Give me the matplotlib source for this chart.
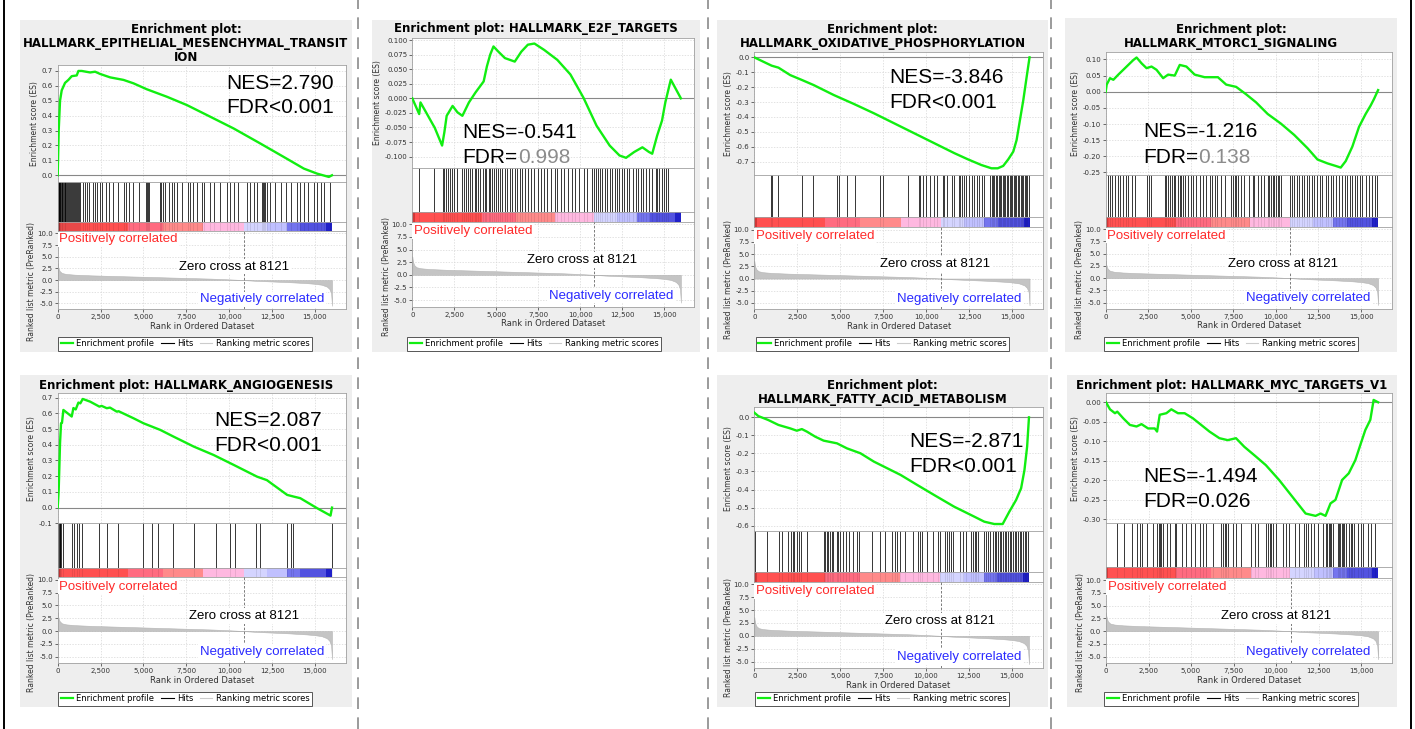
"""GSEA enrichment plots for seven hallmark gene sets, laid out on one page."""

import matplotlib

matplotlib.use("Agg")
import matplotlib.pyplot as plt
from matplotlib.lines import Line2D
from matplotlib.patches import Rectangle
from matplotlib.ticker import FormatStrFormatter, FuncFormatter, MultipleLocator

plt.rcParams["axes.unicode_minus"] = False

W, H = 1415, 729
N_GENES = 16000
X_MAX = 16800
ZERO_LINE_RANK = 10850
ZERO_CROSS_LABEL = "Zero cross at 8121"

# ── shared ranked list metric ────────────────────────────────────────────────
metric_rank = [0, 20, 60, 120, 250, 500, 1000, 2000, 3000, 4000, 5000, 6000, 7000,
               8000, 9000, 10000, 10850, 11500, 12500, 13500, 14500, 15000, 15400,
               15700, 15850, 15950, 16000]
metric_val = [3.6, 3.0, 2.4, 1.9, 1.5, 1.3, 1.15, 1.0, 0.9, 0.8, 0.7, 0.6, 0.5,
              0.4, 0.3, 0.15, 0.0, -0.15, -0.3, -0.45, -0.65, -0.8, -1.0,
              -1.4, -1.9, -2.8, -5.5]

# heat bar segments (rank edges + colours)
bar_edges = [0, 136, 4123, 6167, 8503, 10839, 12205, 13373, 14150, 15650, 16000]
bar_colors = ["#d03838", "#ff5050", "#ff6b80", "#ff8a8a", "#ffb8e0",
              "#d4d4ff", "#c0c0ff", "#7474ee", "#5252e0", "#2020c8"]

# ── EMT ──────────────────────────────────────────────────────────────────────
emt_rank = [0, 58, 136, 234, 428, 623, 818, 1110, 1208, 1403, 1890, 2182, 2474, 3058,
            3838, 4422, 5201, 6370, 7539, 8708, 10266, 11825, 13188, 14357, 15136,
            15818, 16000]
emt_es = [0.0, 0.30, 0.50, 0.57, 0.62, 0.64, 0.665, 0.67, 0.70, 0.70, 0.69, 0.695,
          0.68, 0.657, 0.64, 0.617, 0.577, 0.527, 0.471, 0.404, 0.314, 0.213, 0.123,
          0.045, 0.011, -0.011, 0.0]
emt_hits = [0, 25, 50, 75, 100, 130, 160, 190, 230, 270, 310, 350, 400, 450, 500, 550,
            600, 650, 700, 750, 810, 870, 930, 990, 1050, 1110, 1170, 1230, 1290,
            1500, 1600, 1730, 1850, 2080, 2180, 2280, 2470, 2570, 2820, 3020, 3250,
            3490, 3880, 3990, 4130, 4380, 4770, 5160, 5220, 5280, 5340, 5940, 6040,
            6140, 6270, 6470, 6660, 6800, 6950, 7250, 7580, 7690, 7890, 8120, 8400,
            8550, 8860, 9100, 9490, 9880, 10030, 10270, 10500, 11050, 11200, 11430,
            11630, 11920, 11980, 12040, 12100, 12210, 12410, 12700, 13030, 13340,
            13580, 13930, 14120, 14360, 14590, 14940, 15140, 15370, 15560, 15910]

# ── E2F ──────────────────────────────────────────────────────────────────────
e2f_rank = [0, 410, 488, 1268, 1330, 1775, 1911, 2048, 2400, 2690, 2984, 3374, 3764,
            4251, 4446, 4641, 4836, 5129, 5519, 6104, 6494, 6884, 7274, 7859, 8638,
            9418, 10198, 10978, 11758, 12343, 12733, 13221, 13708, 14098, 14293,
            14586, 14878, 15073, 15400, 16000]
e2f_es = [0.0, -0.027, -0.007, -0.047, -0.050, -0.081, -0.058, -0.030, -0.013,
          -0.024, -0.030, -0.007, 0.010, 0.029, 0.055, 0.075, 0.089, 0.080, 0.069,
          0.063, 0.080, 0.092, 0.094, 0.083, 0.066, 0.041, 0.001, -0.047, -0.081,
          -0.098, -0.102, -0.092, -0.084, -0.092, -0.095, -0.064, -0.038, -0.007,
          0.032, 0.0]
e2f_hits = [410, 1270, 1810, 1910, 2010, 2110, 2240, 2360, 2500, 2690, 2980, 3080,
            3180, 3300, 3410, 3570, 3710, 3800, 3920, 4060, 4190, 4310, 4410, 4540,
            4640, 4740, 4860, 4970, 5090, 5230, 5360, 5520, 5670, 5810, 5950, 6100,
            6260, 6400, 6530, 6690, 6880, 7080, 7270, 7470, 7660, 7860, 8050, 8250,
            8480, 8640, 8870, 9030, 9260, 9520, 9710, 9910, 10200, 10430, 10690, 10820,
            10940, 11080, 11210, 11330, 11470, 11600, 11760, 11910, 12050, 12190,
            12340, 12500, 12640, 12770, 12930, 13120, 13320, 13470, 13630, 13750,
            13900, 14100, 14290, 14490, 14590, 14720, 14880, 15000, 15110, 15230]

# ── OXPHOS ───────────────────────────────────────────────────────────────────
oxphos_rank = [0, 721, 1014, 1404, 2086, 2769, 3451, 4621, 5791, 6962, 8132, 9302,
               10472, 11642, 12422, 13202, 13787, 14150, 14469, 14762, 15054, 15249,
               15444, 15639, 15834, 16000]
oxphos_es = [0.0, -0.04, -0.056, -0.069, -0.119, -0.152, -0.186, -0.253, -0.313,
             -0.376, -0.443, -0.51, -0.577, -0.644, -0.685, -0.723, -0.745, -0.745,
             -0.729, -0.685, -0.633, -0.555, -0.42, -0.286, -0.13, 0.0]
oxphos_hits = [950, 1050, 1400, 2760, 3440, 4800, 4900, 5380, 5860, 7280, 7470, 8910,
               9550, 9650, 9800, 10000, 10230, 10430, 10620, 10950, 11050, 11200,
               11490, 11590, 11880, 11980, 12070, 12170, 12320, 12460, 12650, 12750,
               12940, 13040, 13230, 13330, 13720, 13800, 13880, 13960, 14040, 14120,
               14200, 14280, 14360, 14440, 14520, 14600, 14680, 14760, 14840, 14920,
               15000, 15080, 15160, 15240, 15320, 15400, 15480, 15560, 15640, 15720,
               15800, 15880, 15960]

# ── MTORC1 ───────────────────────────────────────────────────────────────────
mtorc1_rank = [0, 58, 253, 450, 741, 1034, 1326, 1619, 1814, 2106, 2399, 2691, 2984,
               3374, 3666, 4056, 4349, 4739, 5226, 5811, 6591, 7079, 7664, 8249, 8834,
               9516, 10296, 11076, 11856, 12441, 13026, 13514, 13806, 14098, 14489,
               14879, 15269, 15561, 15756, 16000]
mtorc1_es = [0.0, 0.022, 0.042, 0.037, 0.053, 0.068, 0.083, 0.098, 0.106, 0.088,
             0.073, 0.078, 0.068, 0.042, 0.053, 0.05, 0.083, 0.078, 0.053, 0.045,
             0.045, 0.022, 0.015, -0.008, -0.033, -0.069, -0.099, -0.134, -0.175,
             -0.21, -0.222, -0.23, -0.235, -0.215, -0.17, -0.109, -0.069, -0.043,
             -0.023, 0.005]
mtorc1_hits = [120, 250, 390, 550, 700, 840, 1030, 1170, 1290, 1560, 1720, 2400, 2540,
               2690, 3470, 3570, 3670, 3760, 3900, 4020, 4100, 4250, 4350, 4450, 4560,
               4680, 4840, 5030, 5130, 5320, 5520, 5710, 5910, 6100, 6240, 6400, 6550,
               6750, 7020, 7370, 7470, 7570, 7660, 7760, 7920, 8150, 8390, 8640, 8740,
               8970, 9130, 9280, 9520, 9610, 9710, 9810, 9910, 10000, 10100, 10200,
               10300, 10800, 10920, 11080, 11230, 11370, 11510, 11660, 11820, 11950,
               12090, 12250, 12440, 12600, 12730, 12930, 13070, 13220, 13380, 13510,
               13710, 13900, 14040, 14200, 14350, 14490, 14630, 14780, 14940, 15070,
               15270, 15460, 15660, 15800, 15910]

# ── ANGIOGENESIS ─────────────────────────────────────────────────────────────
angio_rank = [0, 58, 97, 136, 195, 250, 331, 818, 916, 1050, 1208, 1320, 1461, 1890,
              2435, 2560, 2864, 3050, 3448, 3550, 4422, 5006, 5493, 5980, 6760, 7929,
              9097, 10266, 11630, 12200, 13383, 13772, 14150, 15136, 15915, 16000]
angio_es = [0.0, 0.112, 0.26, 0.41, 0.537, 0.54, 0.622, 0.58, 0.634, 0.625, 0.669,
            0.664, 0.692, 0.675, 0.643, 0.648, 0.633, 0.637, 0.611, 0.614, 0.569,
            0.537, 0.516, 0.495, 0.452, 0.389, 0.335, 0.272, 0.197, 0.175, 0.081,
            0.07, 0.06, -0.004, -0.051, 0.0]
angio_hits = [0, 40, 80, 120, 160, 200, 290, 857, 955, 1149, 1247, 1442, 2435, 2864,
              3506, 4967, 5493, 5825, 6721, 7929, 9253, 10032, 10325, 11591, 11786,
              13383, 13636, 13733, 15974]

# ── FATTY ACID METABOLISM ────────────────────────────────────────────────────
fatty_rank = [0, 234, 819, 1404, 2087, 2477, 2769, 3062, 3549, 4037, 4817, 5402, 6182,
              6962, 7742, 8522, 9497, 10472, 11642, 12812, 13397, 13982, 14469, 14859,
              15249, 15542, 15737, 15893, 16000]
fatty_es = [0.026, 0.007, -0.015, -0.042, -0.061, -0.074, -0.065, -0.079, -0.107,
            -0.129, -0.144, -0.172, -0.199, -0.245, -0.282, -0.319, -0.375, -0.43,
            -0.495, -0.55, -0.578, -0.591, -0.591, -0.522, -0.458, -0.393, -0.292,
            -0.162, 0.0]
fatty_hits = [40, 720, 1440, 1590, 1980, 2110, 2230, 2330, 2460, 2600, 2720, 3050,
              4050, 4130, 4210, 4310, 4400, 4500, 4600, 4790, 4890, 4990, 5180, 5370,
              5510, 5760, 5960, 6110, 6830, 7310, 7600, 8050, 8190, 8320, 8480, 8770,
              9250, 9540, 9640, 9740, 10070, 10420, 10710, 10840, 11100, 11230, 11350,
              11480, 11580, 11970, 12160, 12360, 12650, 12750, 12840, 12940, 13040,
              13370, 13480, 13620, 13720, 13910, 14010, 14100, 14200, 14300, 14390,
              14490, 14590, 14690, 14780, 14880, 14980, 15070, 15170, 15270, 15360,
              15460, 15560, 15660, 15750, 15850, 15950]

# ── MYC TARGETS V1 ───────────────────────────────────────────────────────────
myc_rank = [0, 234, 527, 663, 1014, 1404, 1794, 2087, 2477, 2867, 3003, 3159, 3549,
            3842, 4232, 4622, 5109, 5597, 6084, 6669, 7157, 7644, 8132, 8814, 9399,
            10179, 10959, 11739, 12324, 12617, 12909, 13202, 13494, 13884, 14274,
            14664, 14957, 15249, 15542, 15737, 16000]
myc_es = [0.0, -0.018, -0.028, -0.024, -0.041, -0.058, -0.062, -0.056, -0.067,
          -0.067, -0.075, -0.032, -0.028, -0.018, -0.028, -0.028, -0.041, -0.058,
          -0.075, -0.092, -0.097, -0.092, -0.114, -0.139, -0.161, -0.199, -0.242,
          -0.285, -0.291, -0.285, -0.291, -0.259, -0.25, -0.199, -0.182, -0.148,
          -0.109, -0.071, -0.045, 0.006, 0.0]
myc_hits = [630, 1060, 1510, 1840, 1990, 2090, 2440, 2740, 3010, 3090, 3170, 3260,
            3360, 3560, 3750, 4050, 4140, 4440, 4730, 5020, 5220, 5510, 5710, 5900,
            6300, 6780, 6880, 6980, 7080, 7170, 7470, 7660, 7960, 8540, 8740, 8930,
            9420, 9520, 9620, 9710, 9810, 10010, 10400, 10600, 10790, 11090, 11340,
            11670, 11770, 11870, 12060, 12260, 12450, 12750, 12940, 13020, 13100,
            13180, 13260, 13330, 13630, 13700, 13780, 13860, 13940, 14020, 14110,
            14310, 14390, 14460, 14600, 14800, 14990, 15130, 15390, 15580, 15840]

# page layout in pixels: box = grey backdrop, es = (left, top, right, bottom),
# rows = bottoms of the hits strip, heat bar and ranked-metric axes
panels = [
    dict(title="Enrichment plot:\nHALLMARK_EPITHELIAL_MESENCHYMAL_TRANSIT\nION",
         title_y=23, box=(20, 20, 352, 352), es=(57.7, 65, 345.7, 182),
         rows=(222, 231, 309.5), legend=(185, 343.5), nes_xy=(226, 89, 113),
         rank=emt_rank, es_val=emt_es, hits=emt_hits, ylim=(-0.045, 0.74),
         step=0.1, fmt="%.1f", nes="NES=2.790", fdr=("FDR<0.001", None),
         zero_x=10300),
    dict(title="Enrichment plot: HALLMARK_E2F_TARGETS",
         title_y=22, box=(372, 20, 700, 352), es=(412.3, 37.7, 694.3, 168.3),
         rows=(211.7, 221.7, 306.7), legend=(534, 343.5), nes_xy=(462.7, 138, 163),
         rank=e2f_rank, es_val=e2f_es, hits=e2f_hits, ylim=(-0.12, 0.104),
         step=0.025, fmt="%.3f", nes="NES=-0.541", fdr=("FDR=", "0.998"),
         zero_x=10100),
    dict(title="Enrichment plot:\nHALLMARK_OXIDATIVE_PHOSPHORYLATION",
         title_y=23, box=(717, 20, 1048, 352), es=(754.3, 51.7, 1043.3, 175),
         rows=(216.7, 227.3, 309.3), legend=(882.5, 343.5), nes_xy=(889, 83, 108),
         rank=oxphos_rank, es_val=oxphos_es, hits=oxphos_hits, ylim=(-0.79, 0.038),
         step=0.1, fmt="%.1f", nes="NES=-3.846", fdr=("FDR<0.001", None),
         zero_x=10530),
    dict(title="Enrichment plot:\nHALLMARK_MTORC1_SIGNALING",
         title_y=23, box=(1065, 18, 1397, 352), es=(1105.7, 51.7, 1391.7, 175),
         rows=(216.7, 226.7, 309), legend=(1231, 343.5), nes_xy=(1143.3, 137, 163),
         rank=mtorc1_rank, es_val=mtorc1_es, hits=mtorc1_hits, ylim=(-0.258, 0.124),
         step=0.05, fmt="%.2f", nes="NES=-1.216", fdr=("FDR=", "0.138"),
         zero_x=10400),
    dict(title="Enrichment plot: HALLMARK_ANGIOGENESIS",
         title_y=379, box=(20, 375, 352, 707), es=(57.7, 393.3, 345.7, 523.3),
         rows=(568.3, 577.3, 663.3), legend=(185, 698.5), nes_xy=(214.3, 425.7, 450.7),
         rank=angio_rank, es_val=angio_es, hits=angio_hits, ylim=(-0.1, 0.728),
         step=0.1, fmt="%.1f", nes="NES=2.087", fdr=("FDR<0.001", None),
         zero_x=10890),
    dict(title="Enrichment plot:\nHALLMARK_FATTY_ACID_METABOLISM",
         title_y=379, box=(717, 375, 1048, 707), es=(754.3, 406.7, 1042.7, 530.7),
         rows=(572.3, 581.7, 668.3), legend=(882, 698.5), nes_xy=(909.3, 447.3, 471.7),
         rank=fatty_rank, es_val=fatty_es, hits=fatty_hits, ylim=(-0.628, 0.059),
         step=0.1, fmt="%.1f", nes="NES=-2.871", fdr=("FDR<0.001", None),
         zero_x=10830),
    dict(title="Enrichment plot: HALLMARK_MYC_TARGETS_V1",
         title_y=379, box=(1067, 375, 1397, 707), es=(1106, 393.3, 1391.7, 523.3),
         rows=(567.3, 577.7, 663.3), legend=(1231, 698.5), nes_xy=(1143.3, 481.7, 506.7),
         rank=myc_rank, es_val=myc_es, hits=myc_hits, ylim=(-0.31, 0.023),
         step=0.05, fmt="%.2f", nes="NES=-1.494", fdr=("FDR=0.026", None),
         zero_x=10000),
]

GREEN = "#11ee11"
SPINE = "#a0a0a0"
GRID = dict(color="#d6d6d6", linestyle=(0, (2, 2)), linewidth=0.5)
LABEL_FONT = "Liberation Sans"


def px_rect(x0, y0, x1, y1):
    return [x0 / W, 1 - y1 / H, (x1 - x0) / W, (y1 - y0) / H]


def style_axes(ax):
    ax.set_xlim(0, X_MAX)
    for s in ax.spines.values():
        s.set_color(SPINE)
        s.set_linewidth(0.6)
    ax.tick_params(labelsize=5, colors="#333333", length=2, width=0.5, pad=1.5)


def draw_panel(fig, p):
    bx0, by0, bx1, by1 = p["box"]
    fig.add_artist(Rectangle((bx0 / W, 1 - by1 / H), (bx1 - bx0) / W, (by1 - by0) / H,
                             transform=fig.transFigure, facecolor="#eeeeee",
                             edgecolor="none", zorder=-2))
    fig.text((bx0 + bx1) / 2 / W, 1 - p["title_y"] / H, p["title"], ha="center",
             va="top", fontsize=8.5, fontweight="bold", linespacing=1.12)

    left, top, right, es_bot = p["es"]
    hits_bot, bar_bot, rank_bot = p["rows"]
    ax_es = fig.add_axes(px_rect(left, top, right, es_bot))
    ax_hits = fig.add_axes(px_rect(left, es_bot, right, hits_bot))
    ax_bar = fig.add_axes(px_rect(left, hits_bot, right, bar_bot))
    ax_rank = fig.add_axes(px_rect(left, bar_bot, right, rank_bot))

    # running enrichment score
    style_axes(ax_es)
    ax_es.plot(p["rank"], p["es_val"], color=GREEN, linewidth=1.7, zorder=3)
    ax_es.axhline(0, color="#888888", linewidth=0.8, zorder=2)
    ax_es.set_ylim(*p["ylim"])
    ax_es.xaxis.set_major_locator(MultipleLocator(2500))
    ax_es.yaxis.set_major_locator(MultipleLocator(p["step"]))
    ax_es.yaxis.set_major_formatter(FormatStrFormatter(p["fmt"]))
    ax_es.tick_params(axis="x", labelbottom=False, length=0)
    ax_es.grid(True, **GRID)
    ax_es.set_axisbelow(True)
    ax_es.set_ylabel("Enrichment score (ES)", fontsize=5.5, color="#333333", labelpad=2)

    # hit positions
    style_axes(ax_hits)
    ax_hits.vlines(p["hits"], 0, 1, color="black", linewidth=0.55)
    ax_hits.set_ylim(0, 1)
    ax_hits.set_xticks([])
    ax_hits.set_yticks([])

    # heat bar of the ranked list
    style_axes(ax_bar)
    for lo, hi, c in zip(bar_edges[:-1], bar_edges[1:], bar_colors):
        ax_bar.axvspan(lo, hi, color=c, linewidth=0)
    ax_bar.vlines(p["hits"], 0, 1, color="black", linewidth=0.5, alpha=0.12)
    ax_bar.set_ylim(0, 1)
    ax_bar.set_xticks([])
    ax_bar.set_yticks([])

    # ranked list metric
    style_axes(ax_rank)
    ax_rank.fill_between(metric_rank, 0, metric_val, facecolor="#c4c4c4",
                         edgecolor="#b4b4b4", linewidth=0.4, zorder=2)
    ax_rank.set_ylim(-6.3, 10.5)
    ax_rank.xaxis.set_major_locator(MultipleLocator(2500))
    ax_rank.xaxis.set_major_formatter(FuncFormatter(lambda v, _: f"{int(v):,}"))
    ax_rank.yaxis.set_major_locator(MultipleLocator(2.5))
    ax_rank.yaxis.set_major_formatter(FormatStrFormatter("%.1f"))
    ax_rank.grid(True, **GRID)
    ax_rank.set_axisbelow(True)
    ax_rank.axvline(ZERO_LINE_RANK, color="#666666", linewidth=0.6,
                    linestyle=(0, (3, 2)), zorder=3)
    ax_rank.set_xlabel("Rank in Ordered Dataset", fontsize=6, color="#333333", labelpad=1)
    ax_rank.set_ylabel("Ranked list metric (PreRanked)", fontsize=5.5,
                       color="#333333", labelpad=2)
    ax_rank.yaxis.set_label_coords(-0.075, 0.36)

    box = dict(facecolor="white", edgecolor="none", pad=1.2)
    ax_rank.text(90, 8.7, "Positively correlated", color="#ff2a2a", fontsize=9.5,
                 family=LABEL_FONT, ha="left", va="center", bbox=box, zorder=4)
    ax_rank.text(p["zero_x"], 2.9, ZERO_CROSS_LABEL, color="black", fontsize=9.5,
                 family=LABEL_FONT, ha="center", va="center", bbox=box, zorder=4)
    ax_rank.text(15550, -4.1, "Negatively correlated", color="#2a2aff", fontsize=9.5,
                 family=LABEL_FONT, ha="right", va="center", bbox=box, zorder=4)

    # NES / FDR annotation
    nx, ny1, ny2 = p["nes_xy"]
    fig.text(nx / W, 1 - ny1 / H, p["nes"], fontsize=15, family=LABEL_FONT,
             va="baseline", ha="left")
    fdr_head, fdr_val = p["fdr"]
    fdr_txt = fig.text(nx / W, 1 - ny2 / H, fdr_head, fontsize=15, family=LABEL_FONT,
                       va="baseline", ha="left")
    if fdr_val is not None:
        ax_es.annotate(fdr_val, xy=(1, 0), xycoords=fdr_txt, ha="left", va="bottom",
                       fontsize=15, family=LABEL_FONT, color="#8c8c8c",
                       annotation_clip=False)

    # legend strip
    handles = [Line2D([], [], color=GREEN, linewidth=1.6),
               Line2D([], [], color="black", linewidth=0.8),
               Line2D([], [], color="#cccccc", linewidth=0.8)]
    lx, ly = p["legend"]
    leg = fig.legend(handles, ["Enrichment profile", "Hits", "Ranking metric scores"],
                     loc="center", bbox_to_anchor=(lx / W, 1 - ly / H), ncol=3,
                     fontsize=6, frameon=True, fancybox=False, framealpha=1,
                     edgecolor="#555555", handlelength=1.5, handletextpad=0.4,
                     columnspacing=0.8, borderpad=0.3, borderaxespad=0)
    leg.get_frame().set_linewidth(0.7)


fig = plt.figure(figsize=(W / 100, H / 100), dpi=100)
fig.patch.set_facecolor("white")

for p in panels:
    draw_panel(fig, p)

# page frame and column separators
for x in (3.5, 1410.5):
    fig.add_artist(Line2D([x / W, x / W], [0, 1], transform=fig.transFigure,
                          color="black", linewidth=1.4))
for x in (357.5, 708, 1050.5):
    fig.add_artist(Line2D([x / W, x / W], [0, 1], transform=fig.transFigure,
                          color="#8a8a8a", linewidth=1.2, linestyle=(0, (7, 5))))

fig.savefig("out.png", dpi=100)
plt.close(fig)
